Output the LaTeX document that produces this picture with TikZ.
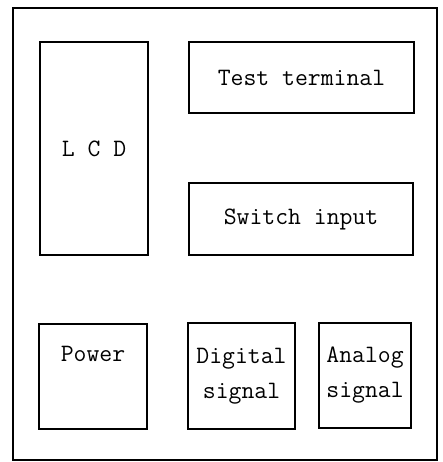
\documentclass[tikz,border=0pt]{standalone}
\usepackage{fontspec}
\usetikzlibrary{positioning}

\begin{document}
\begin{tikzpicture}[x = 1pt, y = -1pt]
        \tikzstyle{unit} = [draw, line width = 1.2pt, inner sep = 2pt, align = center, font = \ttfamily\fontsize{25}{35}\selectfont]
        \useasboundingbox (0, 0) rectangle (443, 462);
        \draw[line width = 1.2pt] (13, 8) rectangle (437, 460);
        \node[unit, minimum width = 108pt, minimum height = 213pt] (lcd) at (94, 148.5) {L C D};
        \node[unit, minimum width = 225pt, minimum height = 71pt] (test) at (301.5, 77.5) {Test terminal};
        \node[unit, minimum width = 224pt, minimum height = 72pt] (switch) at (301, 219) {Switch input};
        \node[unit, minimum width = 108pt, minimum height = 105pt] (power) at (93, 376.5) {Power\\ \strut};
        \node[unit, minimum width = 107pt, minimum height = 106pt] (digital) at (241.5, 376) {Digital\\signal};
        \node[unit, minimum width = 92pt, minimum height = 105pt, inner sep = 1pt] (analog) at (365, 375.5) {Analog\\signal};
      \end{tikzpicture}
\end{document}
